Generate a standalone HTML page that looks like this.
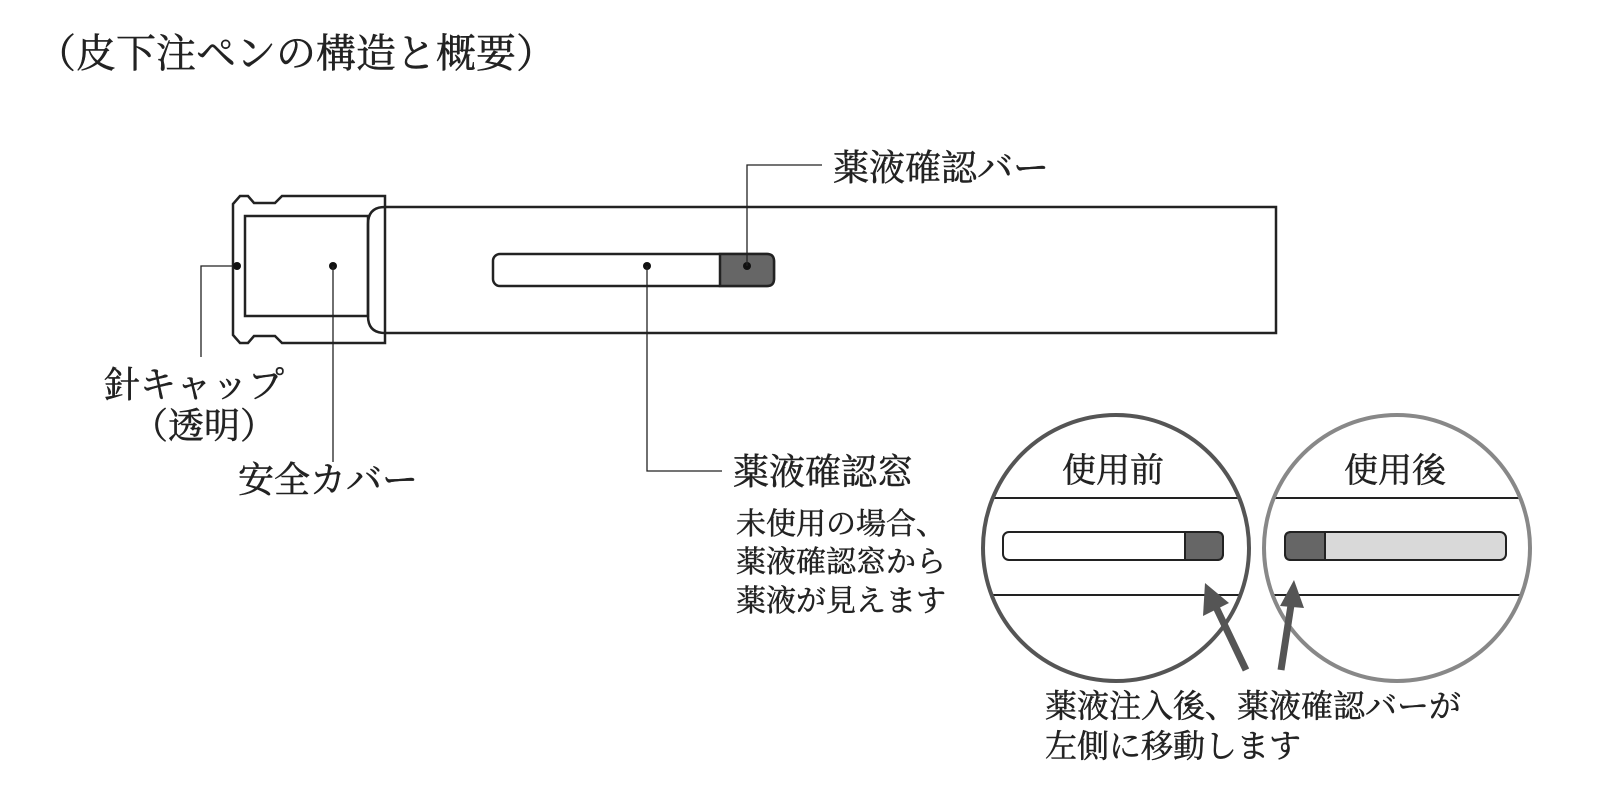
<!DOCTYPE html>
<html><head><meta charset="utf-8"><style>
body{margin:0;background:#fff;}
svg{display:block;font-family:"Noto Serif CJK SC","Noto Serif CJK JP","Liberation Serif",serif;}
text{stroke:#222;stroke-width:0.5;}
</style></head><body>
<svg width="1608" height="808" viewBox="0 0 1608 808" xmlns="http://www.w3.org/2000/svg">
<rect width="1608" height="808" fill="#fff"/>
<text x="36" y="67" font-size="40" fill="#222">（皮下注ペンの構造と概要）</text>
<g fill="none" stroke="#222" stroke-width="2.5">
<path d="M240,196 L248,196 L254,203 L275,203 L282,196 L385,196 L385,343 L282,343 L275,336 L254,336 L248,343 L240,343 L233,335 L233,204 Z"/>
<rect x="245" y="216" width="123" height="100"/>
<path d="M1276,207 L1276,333 L385,333 Q368,333 368,316 L368,224 Q368,207 385,207 Z"/>
<rect x="493" y="254" width="281" height="32" rx="7"/>
</g>
<path d="M720,254 H767 Q774,254 774,261 V279 Q774,286 767,286 H720 Z" fill="#666" stroke="#222" stroke-width="2.5"/>
<g fill="#111"><circle cx="237" cy="266" r="4"/><circle cx="333" cy="266" r="4"/><circle cx="647" cy="266" r="4"/><circle cx="747" cy="266" r="4"/></g>
<g fill="none" stroke="#222" stroke-width="1.3">
<path d="M233,266 H201 V357"/>
<path d="M333,266 V462"/>
<path d="M647,266 V471 H722"/>
<path d="M747,266 V165 H822"/>
</g>
<g font-size="36" fill="#222">
<text x="833" y="180">薬液確認バー</text>
<text x="104" y="397">針キャップ</text>
<text x="132" y="438">（透明）</text>
<text x="238" y="492">安全カバー</text>
<text x="733" y="484">薬液確認窓</text>
</g>
<g font-size="30" fill="#222">
<text x="736" y="534">未使用の場合、</text>
<text x="736" y="572">薬液確認窓から</text>
<text x="736" y="611">薬液が見えます</text>
</g>
<g font-size="32" fill="#222">
<text x="1045" y="717">薬液注入後、薬液確認バーが</text>
<text x="1045" y="757">左側に移動します</text>
</g>
<defs>
<clipPath id="c1"><circle cx="1116" cy="548" r="134"/></clipPath>
<clipPath id="c2"><circle cx="1397" cy="548" r="134"/></clipPath>
</defs>
<g clip-path="url(#c1)" stroke="#222" stroke-width="2">
<line x1="970" y1="498" x2="1260" y2="498"/><line x1="970" y1="595" x2="1260" y2="595"/>
</g>
<g clip-path="url(#c2)" stroke="#222" stroke-width="2">
<line x1="1250" y1="498" x2="1540" y2="498"/><line x1="1250" y1="595" x2="1540" y2="595"/>
</g>
<circle cx="1116" cy="548" r="133" fill="none" stroke="#555" stroke-width="4"/>
<circle cx="1397" cy="548" r="133" fill="none" stroke="#888" stroke-width="4"/>
<text x="1113" y="482" font-size="34" text-anchor="middle" fill="#222">使用前</text>
<text x="1395" y="482" font-size="34" text-anchor="middle" fill="#222">使用後</text>
<rect x="1003" y="532" width="220" height="28" rx="6" fill="#fff" stroke="#222" stroke-width="2"/>
<path d="M1185,532 H1217 Q1223,532 1223,538 V554 Q1223,560 1217,560 H1185 Z" fill="#666" stroke="#222" stroke-width="2"/>
<rect x="1285" y="532" width="221" height="28" rx="6" fill="#d9d9d9" stroke="#222" stroke-width="2"/>
<path d="M1325,532 H1291 Q1285,532 1285,538 V554 Q1285,560 1291,560 H1325 Z" fill="#666" stroke="#222" stroke-width="2"/>
<g stroke="#555" stroke-width="7" fill="#555">
<line x1="1246" y1="670" x2="1215" y2="605"/>
<line x1="1281" y1="670" x2="1291" y2="605"/>
</g>
<polygon points="1205,583 1229,603 1203,616" fill="#555"/>
<polygon points="1294,580 1304,608 1280,606" fill="#555"/>
</svg>
</body></html>
